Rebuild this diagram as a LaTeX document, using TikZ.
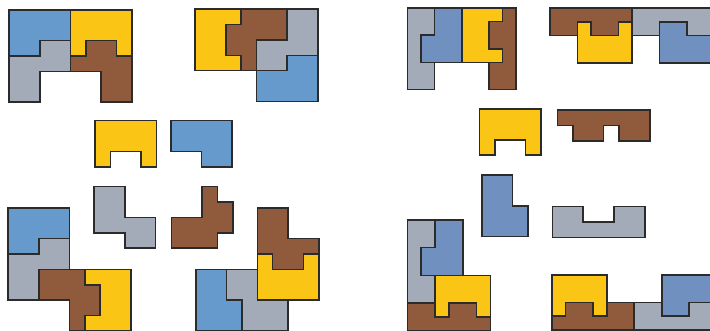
\documentclass[tikz,border=0pt]{standalone}
\definecolor{edgec}{HTML}{2B2B2B}
\definecolor{pblue}{HTML}{6699CC}
\definecolor{pblueb}{HTML}{7090C0}
\definecolor{pyellow}{HTML}{FAC515}
\definecolor{pbrown}{HTML}{8F5B3C}
\definecolor{pgray}{HTML}{A4ABB8}
\tikzset{
  piece/.style={draw=edgec, line width=1.6pt, line join=miter},
  blu/.style={piece, fill=pblue},
  blub/.style={piece, fill=pblueb},
  yel/.style={piece, fill=pyellow},
  bro/.style={piece, fill=pbrown},
  gra/.style={piece, fill=pgray}
}
\begin{document}
\begin{tikzpicture}[x=1pt,y=-1pt]
\useasboundingbox (0,0) rectangle (710,331);
\clip (0,0) rectangle (710,331);
% ---------- left half ----------
% top-left assembly
\begin{scope}[shift={(9,10)}, x=15.35pt, y=-15.35pt]
  \draw[blu] (0,0)--(4,0)--(4,2)--(2,2)--(2,3)--(0,3)--cycle;
  \draw[yel] (4,0)--(8,0)--(8,3)--(7,3)--(7,2)--(5,2)--(5,3)--(4,3)--cycle;
  \draw[gra] (0,3)--(2,3)--(2,2)--(4,2)--(4,4)--(2,4)--(2,6)--(0,6)--cycle;
  \draw[bro] (4,3)--(5,3)--(5,2)--(7,2)--(7,3)--(8,3)--(8,6)--(6,6)--(6,4)--(4,4)--cycle;
\end{scope}
% top-right assembly
\begin{scope}[shift={(195,9.3)}, x=15.35pt, y=-15.35pt]
  \draw[yel] (0,0)--(3,0)--(3,1)--(2,1)--(2,3)--(3,3)--(3,4)--(0,4)--cycle;
  \draw[bro] (3,0)--(6,0)--(6,2)--(4,2)--(4,4)--(3,4)--(3,3)--(2,3)--(2,1)--(3,1)--cycle;
  \draw[gra] (6,0)--(8,0)--(8,3)--(6,3)--(6,4)--(4,4)--(4,2)--(6,2)--cycle;
  \draw[blu] (6,3)--(8,3)--(8,6)--(4,6)--(4,4)--(6,4)--cycle;
\end{scope}
% loose pieces
\begin{scope}[shift={(95,120.7)}, x=15.35pt, y=-15.35pt]
  \draw[yel] (0,0)--(4,0)--(4,3)--(3,3)--(3,2)--(1,2)--(1,3)--(0,3)--cycle;
\end{scope}
\begin{scope}[shift={(170.7,120.7)}, x=15.35pt, y=-15.35pt]
  \draw[blu] (0,0)--(4,0)--(4,3)--(2,3)--(2,2)--(0,2)--cycle;
\end{scope}
\begin{scope}[shift={(94,186.7)}, x=15.35pt, y=-15.35pt]
  \draw[gra] (0,0)--(2,0)--(2,2)--(4,2)--(4,4)--(2,4)--(2,3)--(0,3)--cycle;
\end{scope}
\begin{scope}[shift={(171.3,186.7)}, x=15.35pt, y=-15.35pt]
  \draw[bro] (2,0)--(3,0)--(3,1)--(4,1)--(4,3)--(3,3)--(3,4)--(0,4)--(0,2)--(2,2)--cycle;
\end{scope}
% bottom-left assembly
\begin{scope}[shift={(8,208)}, x=15.35pt, y=-15.35pt]
  \draw[blu] (0,0)--(4,0)--(4,2)--(2,2)--(2,3)--(0,3)--cycle;
  \draw[gra] (0,3)--(2,3)--(2,2)--(4,2)--(4,4)--(2,4)--(2,6)--(0,6)--cycle;
  \draw[bro] (2,4)--(5,4)--(5,5)--(6,5)--(6,7)--(5,7)--(5,8)--(4,8)--(4,6)--(2,6)--cycle;
  \draw[yel] (5,4)--(8,4)--(8,8)--(5,8)--(5,7)--(6,7)--(6,5)--(5,5)--cycle;
\end{scope}
% bottom-right assembly
\begin{scope}[shift={(257.3,208)}, x=15.35pt, y=-15.35pt]
  \draw[bro] (0,0)--(2,0)--(2,2)--(4,2)--(4,3)--(3,3)--(3,4)--(1,4)--(1,3)--(0,3)--cycle;
  \draw[yel] (0,3)--(1,3)--(1,4)--(3,4)--(3,3)--(4,3)--(4,6)--(0,6)--cycle;
  \draw[blu] (-4,4)--(-2,4)--(-2,6)--(-1,6)--(-1,8)--(-4,8)--cycle;
  \draw[gra] (-2,4)--(0,4)--(0,6)--(2,6)--(2,8)--(-1,8)--(-1,6)--(-2,6)--cycle;
\end{scope}
% ---------- right half ----------
\begin{scope}[shift={(407.3,8)}, x=13.6pt, y=-13.6pt]
  \draw[gra] (0,0)--(2,0)--(2,2)--(1,2)--(1,4)--(2,4)--(2,6)--(0,6)--cycle;
  \draw[blub] (2,0)--(4,0)--(4,4)--(1,4)--(1,2)--(2,2)--cycle;
  \draw[yel] (4,0)--(7,0)--(7,1)--(6,1)--(6,3)--(7,3)--(7,4)--(4,4)--cycle;
  \draw[bro] (7,0)--(8,0)--(8,6)--(6,6)--(6,4)--(7,4)--(7,3)--(6,3)--(6,1)--(7,1)--cycle;
\end{scope}
\begin{scope}[shift={(550,8.3)}, x=13.7pt, y=-13.7pt]
  \draw[bro] (0,0)--(6,0)--(6,1)--(5,1)--(5,2)--(3,2)--(3,1)--(2,1)--(2,2)--(0,2)--cycle;
  \draw[yel] (2,1)--(3,1)--(3,2)--(5,2)--(5,1)--(6,1)--(6,4)--(2,4)--cycle;
  \draw[gra] (6,0)--(12,0)--(12,2)--(10,2)--(10,1)--(8,1)--(8,2)--(6,2)--cycle;
  \draw[blub] (8,1)--(10,1)--(10,2)--(12,2)--(12,4)--(8,4)--cycle;
\end{scope}
\begin{scope}[shift={(479.3,109)}, x=15.4pt, y=-15.4pt]
  \draw[yel] (0,0)--(4,0)--(4,3)--(3,3)--(3,2)--(1,2)--(1,3)--(0,3)--cycle;
\end{scope}
\begin{scope}[shift={(557.3,110)}, x=15.4pt, y=-15.4pt]
  \draw[bro] (0,0)--(6,0)--(6,2)--(4,2)--(4,1)--(3,1)--(3,2)--(1,2)--(1,1)--(0,1)--cycle;
\end{scope}
\begin{scope}[shift={(481.7,175)}, x=15.4pt, y=-15.4pt]
  \draw[blub] (0,0)--(2,0)--(2,2)--(3,2)--(3,4)--(0,4)--cycle;
\end{scope}
\begin{scope}[shift={(552.3,206.7)}, x=15.4pt, y=-15.4pt]
  \draw[gra] (0,0)--(2,0)--(2,1)--(4,1)--(4,0)--(6,0)--(6,2)--(0,2)--cycle;
\end{scope}
\begin{scope}[shift={(407.3,220)}, x=13.85pt, y=-13.85pt]
  \draw[gra] (0,0)--(2,0)--(2,2)--(1,2)--(1,4)--(2,4)--(2,6)--(0,6)--cycle;
  \draw[blub] (2,0)--(4,0)--(4,4)--(1,4)--(1,2)--(2,2)--cycle;
  \draw[yel] (2,4)--(6,4)--(6,7)--(5,7)--(5,6)--(3,6)--(3,7)--(2,7)--cycle;
  \draw[bro] (0,6)--(2,6)--(2,7)--(3,7)--(3,6)--(5,6)--(5,7)--(6,7)--(6,8)--(0,8)--cycle;
\end{scope}
\begin{scope}[shift={(551.7,275)}, x=13.75pt, y=-13.75pt]
  \draw[yel] (0,0)--(4,0)--(4,3)--(3,3)--(3,2)--(1,2)--(1,3)--(0,3)--cycle;
  \draw[bro] (0,3)--(1,3)--(1,2)--(3,2)--(3,3)--(4,3)--(4,2)--(6,2)--(6,4)--(0,4)--cycle;
  \draw[gra] (6,2)--(8,2)--(8,3)--(10,3)--(10,2)--(12,2)--(12,4)--(6,4)--cycle;
  \draw[blub] (8,0)--(12,0)--(12,2)--(10,2)--(10,3)--(8,3)--cycle;
\end{scope}
\end{tikzpicture}
\end{document}
